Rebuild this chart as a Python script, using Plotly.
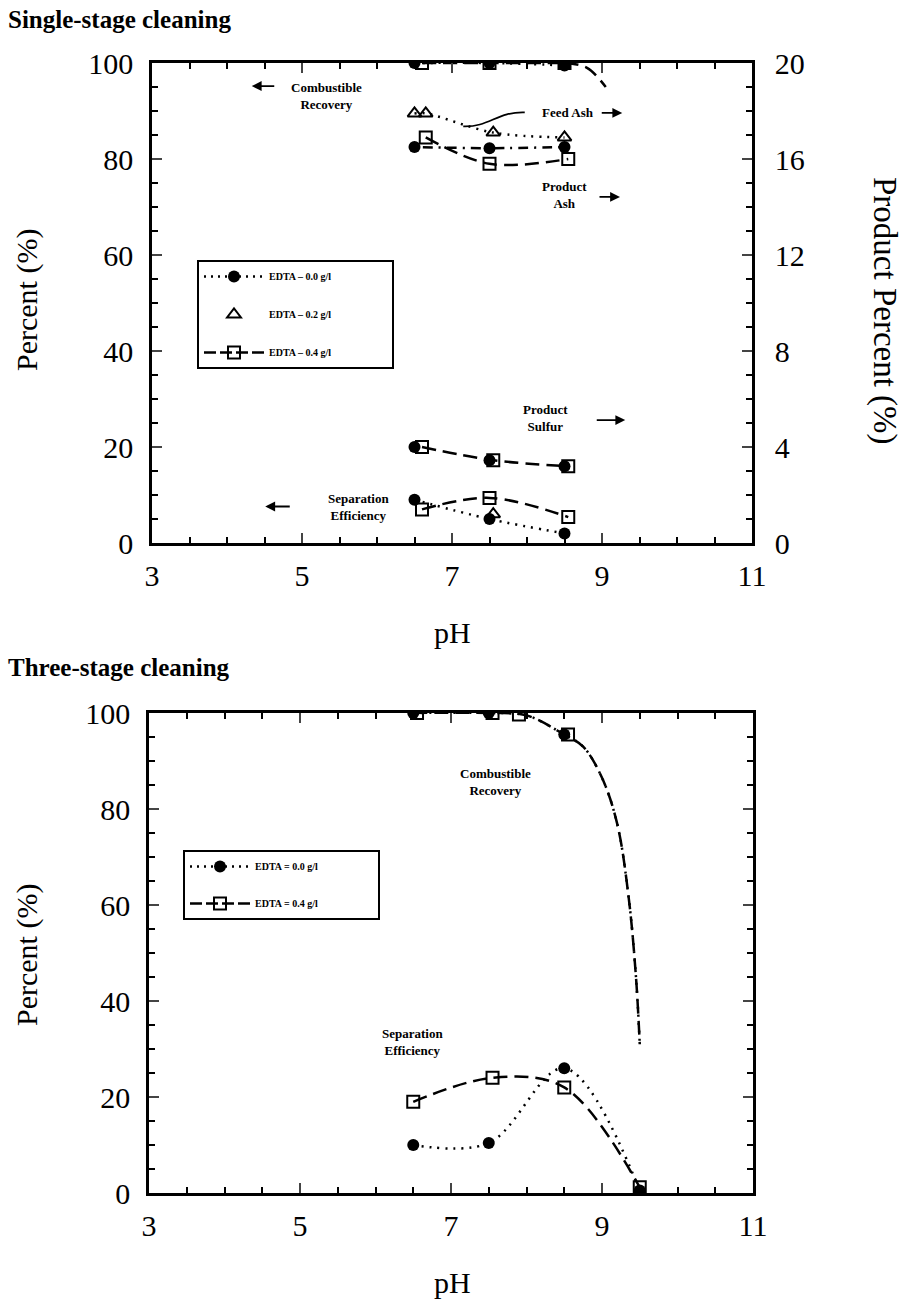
import plotly.graph_objects as go

# ---------------- data: single-stage (top) ----------------
# Combustible recovery (left axis, %)
s1_cr_ph_c = [6.5, 7.5, 8.5]
s1_cr_c = [100, 100, 99.5]
s1_cr_ph_s = [6.6, 7.5, 8.5]
s1_cr_s = [100, 100, 100]
s1_cr_tail_ph = [8.5, 8.8, 9.05]
s1_cr_tail = [100, 99, 95]
# Feed ash (right axis, %)
s1_fa_ph_t = [6.5, 6.65, 7.55, 8.5]
s1_fa_t = [17.9, 17.9, 17.1, 16.9]
# Product ash (right axis, %)
s1_pa_ph_c = [6.5, 7.5, 8.5]
s1_pa_c = [16.5, 16.45, 16.5]
s1_pa_ph_s = [6.65, 7.5, 8.55]
s1_pa_s = [16.9, 15.8, 16.0]
# Product sulfur (right axis, %)
s1_ps_ph_c = [6.5, 7.5, 8.5]
s1_ps_c = [4.0, 3.45, 3.2]
s1_ps_ph_s = [6.6, 7.55, 8.55]
s1_ps_s = [4.0, 3.45, 3.2]
# Separation efficiency (left axis, %)
s1_se_ph_c = [6.5, 7.5, 8.5]
s1_se_c = [9.0, 5.0, 2.0]
s1_se_ph_s = [6.6, 7.5, 8.55]
s1_se_s = [7.0, 9.4, 5.4]
s1_se_ph_t = [7.55]
s1_se_t = [6.0]

# ---------------- data: three-stage (bottom) ----------------
s3_cr_ph_c = [6.5, 7.5, 8.5]
s3_cr_c = [100, 100, 95.5]
s3_cr_ph_s = [6.55, 7.55, 7.9, 8.55]
s3_cr_s = [100, 100, 99.7, 95.5]
s3_cr_curve_ph = [6.5, 7.5, 8.0, 8.5, 8.75, 9.0, 9.2, 9.35, 9.45, 9.5]
s3_cr_curve = [100, 100, 99.5, 95.5, 93, 86.5, 77, 62, 45, 31]
s3_se_ph_c = [6.5, 7.5, 8.5, 9.5]
s3_se_c = [10.0, 10.4, 26.0, 0.5]
s3_se_ph_s = [6.5, 7.55, 8.5, 9.5]
s3_se_s = [19.0, 24.0, 22.0, 1.2]

x_ticks = [3, 5, 7, 9, 11]
y_ticks = [0, 20, 40, 60, 80, 100]
y2_ticks = [0, 4, 8, 12, 16, 20]

W, H = 904, 1306
SERIF = "Liberation Serif"
BLK = "black"


def px(x):
    return x / W


def py(y):
    return 1 - y / H


fig = go.Figure()

DOT = "2px,6px"
DASH = "14px,7px"


def line(x, y, dash, xa="x", ya="y", width=2.5):
    fig.add_trace(go.Scatter(x=x, y=y, mode="lines", xaxis=xa, yaxis=ya,
                             line=dict(color=BLK, width=width, dash=dash, shape="spline"),
                             showlegend=False, hoverinfo="skip"))


def marker_style(kind):
    if kind == "c":
        return dict(symbol="circle", size=12, color=BLK)
    if kind == "s":
        return dict(symbol="square-open", size=12, color=BLK, line=dict(width=2))
    return dict(symbol="triangle-up-open", size=12, color=BLK, line=dict(width=2))


def marks(x, y, kind, xa="x", ya="y"):
    fig.add_trace(go.Scatter(x=x, y=y, mode="markers", xaxis=xa, yaxis=ya,
                             marker=marker_style(kind), showlegend=False, hoverinfo="skip"))


# ---- top panel ----
line(s1_cr_ph_c, s1_cr_c, DOT)
line(s1_cr_tail_ph, s1_cr_tail, DASH)
line(s1_cr_ph_s, s1_cr_s, DASH)
marks(s1_cr_ph_c, s1_cr_c, "c")
marks(s1_cr_ph_s, s1_cr_s, "s")

line(s1_fa_ph_t, s1_fa_t, DOT, ya="y2")
marks(s1_fa_ph_t, s1_fa_t, "t", ya="y2")
line(s1_pa_ph_c, s1_pa_c, "2px,6px,10px,6px", ya="y2")
line(s1_pa_ph_s, s1_pa_s, DASH, ya="y2")
marks(s1_pa_ph_c, s1_pa_c, "c", ya="y2")
marks(s1_pa_ph_s, s1_pa_s, "s", ya="y2")

line(s1_ps_ph_s, s1_ps_s, DASH, ya="y2")
marks(s1_ps_ph_c, s1_ps_c, "c", ya="y2")
marks(s1_ps_ph_s, s1_ps_s, "s", ya="y2")

line(s1_se_ph_c, s1_se_c, DOT)
line(s1_se_ph_s, s1_se_s, DASH)
marks(s1_se_ph_t, s1_se_t, "t")
marks(s1_se_ph_c, s1_se_c, "c")
marks(s1_se_ph_s, s1_se_s, "s")

# ---- bottom panel ----
line(s3_cr_curve_ph, s3_cr_curve, DASH, "x2", "y3")
line(s3_cr_curve_ph, s3_cr_curve, DOT, "x2", "y3")
marks(s3_cr_ph_c, s3_cr_c, "c", "x2", "y3")
marks(s3_cr_ph_s, s3_cr_s, "s", "x2", "y3")
line(s3_se_ph_c, s3_se_c, DOT, "x2", "y3")
line(s3_se_ph_s, s3_se_s, DASH, "x2", "y3")
marks(s3_se_ph_c, s3_se_c, "c", "x2", "y3")
marks(s3_se_ph_s, s3_se_s, "s", "x2", "y3")

# ---- legends ----
PAD = "\u00a0" * 22


def leg(name, dash, kind, legend, group):
    mode = "markers" if dash is None else "lines+markers"
    fig.add_trace(go.Scatter(x=[None], y=[None], mode=mode, name=name + PAD,
                             marker=marker_style(kind),
                             line=dict(color=BLK, width=2.5, dash=dash or "solid"),
                             legend=legend, legendgroup=legend + group, showlegend=True))


leg("EDTA \u2013 0.0 g/l", "2px,5px", "c", "legend", "a")
leg("EDTA \u2013 0.2 g/l", None, "t", "legend", "b")
leg("EDTA \u2013 0.4 g/l", "12px,4px", "s", "legend", "c")
leg("EDTA = 0.0 g/l", "2px,5px", "c", "legend2", "a")
leg("EDTA = 0.4 g/l", "12px,4px", "s", "legend2", "c")

legfont = dict(family=SERIF, size=10, color=BLK, weight="bold")
fig.update_layout(
    legend=dict(x=px(197), y=py(260), xanchor="left", yanchor="top",
                bordercolor=BLK, borderwidth=2, bgcolor="white", font=legfont,
                tracegroupgap=19, itemwidth=60, traceorder="grouped"),
    legend2=dict(x=px(183), y=py(850), xanchor="left", yanchor="top",
                 bordercolor=BLK, borderwidth=2, bgcolor="white", font=legfont,
                 tracegroupgap=18, itemwidth=60, traceorder="grouped"),
)

# ---- axes ----
tickfont = dict(family=SERIF, size=30, color=BLK)
common_x = dict(range=[3, 11], tickvals=x_ticks, ticks="inside", ticklen=10, tickwidth=2,
                showline=True, linewidth=2.5, linecolor=BLK, mirror="ticks", showgrid=False,
                zeroline=False, tickfont=tickfont, ticklabelstandoff=4, automargin=False,
                minor=dict(dtick=0.5, ticks="inside", ticklen=6, tickwidth=1.5, tickcolor=BLK))
common_y = dict(range=[0, 100], tickvals=y_ticks, ticks="inside", ticklen=10, tickwidth=2,
                showline=True, linewidth=2.5, linecolor=BLK, showgrid=False,
                zeroline=False, tickfont=tickfont, ticklabelstandoff=10, automargin=False,
                minor=dict(dtick=5, ticks="inside", ticklen=6, tickwidth=1.5, tickcolor=BLK))

fig.update_layout(
    xaxis=dict(domain=[px(152), px(752)], anchor="y", **common_x),
    yaxis=dict(domain=[py(543), py(63)], anchor="x", mirror=True, **common_y),
    yaxis2=dict(overlaying="y", side="right", anchor="x", range=[0, 20], tickvals=y2_ticks,
                ticks="inside", ticklen=10, tickwidth=2, showline=True, linewidth=2.5,
                linecolor=BLK, showgrid=False, zeroline=False, tickfont=tickfont,
                ticklabelstandoff=14, automargin=False,
                minor=dict(dtick=1, ticks="inside", ticklen=6, tickwidth=1.5, tickcolor=BLK)),
    xaxis2=dict(domain=[px(149), px(753)], anchor="y3", **common_x),
    yaxis3=dict(domain=[py(1193), py(713)], anchor="x2", mirror="ticks", **common_y),
)

# ---- annotations ----
ann = []
tfont = dict(family=SERIF, size=30, color=BLK)
rfont = dict(family=SERIF, size=33, color=BLK)
sfont = dict(family=SERIF, size=13, color=BLK, weight="bold")
hfont = dict(family=SERIF, size=25, color=BLK, weight="bold")


def ptext(text, x, y, font, xanchor="center", angle=0):
    ann.append(dict(text=text, x=px(x), y=py(y), xref="paper", yref="paper", showarrow=False,
                    font=font, xanchor=xanchor, yanchor="middle", textangle=angle))


ptext("Single-stage cleaning", 6, 20, hfont, "left")
ptext("Three-stage cleaning", 6, 667, hfont, "left")
ptext("pH", 452, 632, tfont)
ptext("pH", 452, 1282, tfont)
ptext("Percent (%)", 27, 300, tfont, angle=-90)
ptext("Percent (%)", 27, 955, tfont, angle=-90)
ptext("Product Percent (%)", 885, 311, rfont, angle=90)


def dtext(text, x, y, xr="x", yr="y"):
    ann.append(dict(text=text, x=x, y=y, xref=xr, yref=yr, showarrow=False, font=sfont,
                    align="center"))


def arrow(x, y, ax, xr="x", yr="y"):
    ann.append(dict(text="", x=x, y=y, xref=xr, yref=yr, showarrow=True, ax=ax, ay=0,
                    arrowhead=2, arrowsize=1.1, arrowwidth=1.8, arrowcolor=BLK))


dtext("Combustible<br>Recovery", 5.33, 93.2)
arrow(4.33, 95.2, 24)
dtext("Feed Ash", 8.55, 89.6)
arrow(9.27, 89.6, -22)
dtext("Product<br>Ash", 8.5, 72.5)
arrow(9.24, 72.1, -22)
dtext("Product<br>Sulfur", 8.24, 26)
arrow(9.31, 25.6, -30)
dtext("Separation<br>Efficiency", 5.75, 7.5)
arrow(4.51, 7.6, 26)
dtext("Combustible<br>Recovery", 7.59, 85.6, "x2", "y3")
dtext("Separation<br>Efficiency", 6.49, 31.5, "x2", "y3")

fig.update_layout(annotations=ann)

# leader curve from "Feed Ash" to dotted feed-ash line
fig.add_shape(type="path", xref="x", yref="y",
              path="M 7.97,89.7 C 7.6,89.9 7.5,86.6 7.15,86.8",
              line=dict(color=BLK, width=1.8))

fig.update_layout(width=W, height=H, margin=dict(l=0, r=0, t=0, b=0),
                  paper_bgcolor="white", plot_bgcolor="white", showlegend=True)

fig.write_html("out.html")
